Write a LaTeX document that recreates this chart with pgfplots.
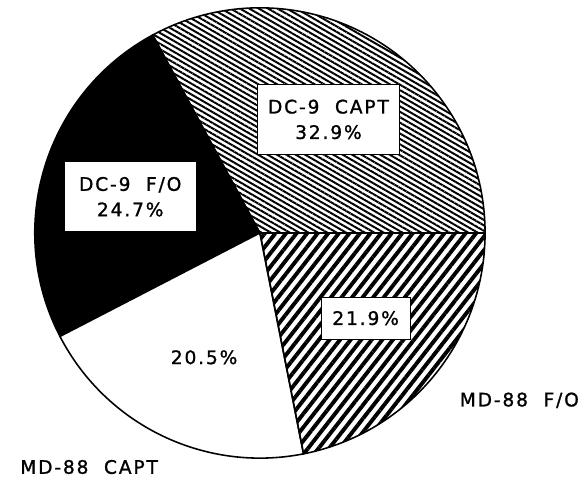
\documentclass[border=0pt]{standalone}
\usepackage{pgfplots}
\pgfplotsset{compat=1.18}
\usepackage{pgfplotstable}
\usetikzlibrary{patterns.meta}
\usepackage{fontspec}
\setmainfont{DejaVu Sans}[LetterSpace=10, FakeBold=1.2]

% shares in percent, counter-clockwise from 0 degrees
\pgfplotstableread{
pct
32.9
24.7
20.5
21.9
}\pietable

\begin{document}
\pgfplotstablegetelem{0}{pct}\of\pietable \let\pA\pgfplotsretval
\pgfplotstablegetelem{1}{pct}\of\pietable \let\pB\pgfplotsretval
\pgfplotstablegetelem{2}{pct}\of\pietable \let\pC\pgfplotsretval
\pgfmathsetmacro\aA{3.6*\pA}
\pgfmathsetmacro\aB{\aA+3.6*\pB}
\pgfmathsetmacro\aC{\aB+3.6*\pC}
\begin{tikzpicture}[font=\fontsize{19}{22}\selectfont]
\begin{axis}[
    at={(0,0)}, anchor=south west,
    scale only axis, width=581pt, height=488pt,
    xmin=0, xmax=581, ymin=0, ymax=488,
    hide axis, clip=false,
]
\def\cx{253}\def\cy{250}\def\rr{230pt}
% DC-9 CAPT
\filldraw[line width=1.6pt, pattern={Lines[angle=-30, distance=4.8pt, line width=2pt]}]
    (axis cs:\cx,\cy) -- ++(0:\rr) arc[start angle=0, end angle=\aA, radius=\rr] -- cycle;
% DC-9 F/O
\filldraw[line width=1.6pt, fill=black]
    (axis cs:\cx,\cy) -- ++(\aA:\rr) arc[start angle=\aA, end angle=\aB, radius=\rr] -- cycle;
% MD-88 CAPT
\filldraw[line width=1.6pt, fill=white]
    (axis cs:\cx,\cy) -- ++(\aB:\rr) arc[start angle=\aB, end angle=\aC, radius=\rr] -- cycle;
% MD-88 F/O
\filldraw[line width=1.6pt, pattern={Lines[angle=52, distance=8.5pt, line width=4pt]}]
    (axis cs:\cx,\cy) -- ++(\aC:\rr) arc[start angle=\aC, end angle=360, radius=\rr] -- cycle;

\node[draw, fill=white, line width=1.2pt, minimum width=145pt, minimum height=71pt, align=center]
    at (axis cs:323,366) {DC-9\ \ CAPT\\[4pt]32.9\%};
\node[draw, fill=white, line width=1.2pt, minimum width=135pt, minimum height=72pt, align=center]
    at (axis cs:120.5,287) {DC-9\ \ F/O\\[4pt]24.7\%};
\node[draw, fill=white, line width=1.2pt, minimum width=91pt, minimum height=43pt]
    at (axis cs:361,163) {21.9\%};
\node at (axis cs:196,123) {20.5\%};
\node at (axis cs:518,79) {MD-88\ \ F/O};
\node[anchor=base west, inner sep=0pt] at (axis cs:8,4) {MD-88\ \ CAPT};
\end{axis}
\pgfresetboundingbox
\path (0,0) rectangle (581pt,488pt);
\end{tikzpicture}
\end{document}
